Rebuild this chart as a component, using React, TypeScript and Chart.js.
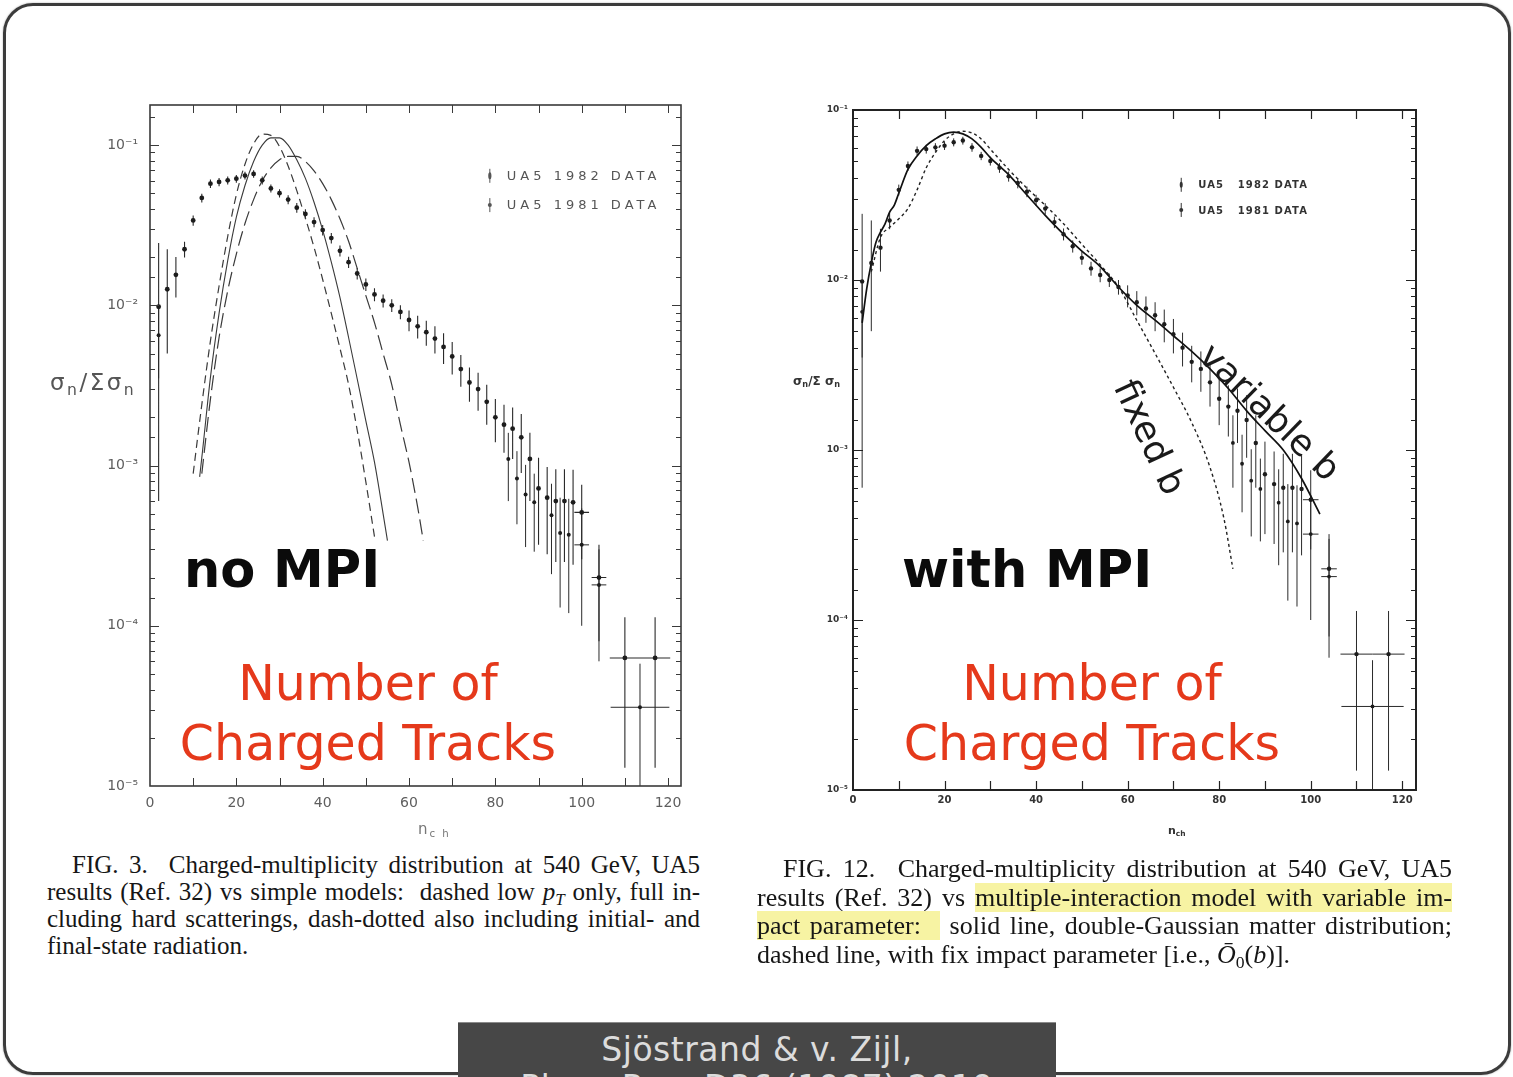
import React, { useEffect, useRef } from 'react';
import { Chart, registerables } from 'chart.js';

Chart.register(...registerables);

// ---------------- UA5 540 GeV charged-multiplicity data ----------------
// 1982 run
const ua82N = [2, 4, 6, 8, 10, 12, 14, 16, 18, 20, 22, 24, 26, 28, 30, 32, 34, 36, 38, 40, 42, 44, 46, 48, 50, 52, 54, 56, 58, 60, 62, 64, 66, 68, 70, 72, 74, 76, 78, 80, 82, 84, 86, 88, 90, 92, 94, 96, 98, 100, 104, 110, 117];
const ua82Val = [0.0098, 0.0126, 0.0155, 0.0224, 0.0339, 0.0468, 0.0575, 0.0589, 0.0603, 0.0617, 0.0646, 0.0661, 0.0603, 0.0537, 0.0501, 0.0457, 0.0407, 0.0372, 0.0331, 0.0295, 0.0263, 0.0219, 0.0186, 0.0158, 0.0135, 0.0117, 0.0107, 0.0100, 0.0091, 0.0081, 0.0074, 0.0068, 0.0062, 0.0055, 0.0048, 0.0040, 0.0033, 0.0030, 0.0025, 0.0020, 0.0018, 0.0017, 0.0015, 0.0011, 0.00072, 0.00063, 0.00060, 0.00060, 0.00059, 0.00051, 0.00020, 0.000063, 0.000063];
const ua82ErrUp = [0.0147, 0.0098, 0.0045, 0.0025, 0.0025, 0.0030, 0.0035, 0.0035, 0.0035, 0.0035, 0.0035, 0.0035, 0.0035, 0.0030, 0.0030, 0.0030, 0.0028, 0.0026, 0.0024, 0.0022, 0.0020, 0.0017, 0.0015, 0.0013, 0.0012, 0.0011, 0.0010, 0.0009, 0.0009, 0.0012, 0.0012, 0.0012, 0.0012, 0.0012, 0.0011, 0.0009, 0.0008, 0.0008, 0.0007, 0.0006, 0.0006, 0.0006, 0.0006, 0.0005, 0.0004, 0.00035, 0.00035, 0.00035, 0.00035, 0.00025, 0.00012, 0.00005, 0.00005];
const ua82ErrDn = [0.0092, 0.0076, 0.0043, 0.0025, 0.0025, 0.0030, 0.0035, 0.0035, 0.0035, 0.0035, 0.0035, 0.0035, 0.0035, 0.0030, 0.0030, 0.0030, 0.0028, 0.0026, 0.0024, 0.0022, 0.0020, 0.0017, 0.0015, 0.0013, 0.0012, 0.0011, 0.0010, 0.0009, 0.0009, 0.0012, 0.0012, 0.0012, 0.0012, 0.0012, 0.0011, 0.0009, 0.0008, 0.0008, 0.0007, 0.0006, 0.0006, 0.0006, 0.0006, 0.0005, 0.0004, 0.00035, 0.00035, 0.00035, 0.00035, 0.00025, 0.00012, 0.00005, 0.00005];
const ua82XErr = [0, 0, 0, 0, 0, 0, 0, 0, 0, 0, 0, 0, 0, 0, 0, 0, 0, 0, 0, 0, 0, 0, 0, 0, 0, 0, 0, 0, 0, 0, 0, 0, 0, 0, 0, 0, 0, 0, 0, 0, 0, 0, 0, 0, 0, 0, 0, 0, 0, 1.7, 1.7, 3.5, 3.5];
// 1981 run
const ua81N = [2, 83, 85, 87, 89, 93, 95, 97, 100, 104, 113.5];
const ua81Val = [0.0065, 0.0011, 0.00083, 0.00066, 0.00059, 0.00049, 0.00038, 0.00037, 0.00032, 0.00018, 0.000031];
const ua81Err = [0.003, 0.0005, 0.0004, 0.00035, 0.0003, 0.00028, 0.00025, 0.00025, 0.00022, 0.00012, 0.000027];
const ua81XErr = [0, 0, 0, 0, 0, 0, 0, 0, 1.7, 1.7, 6.8];

// ---------------- FIG. 3 simple models ----------------
const lowPtN = [10, 12, 14, 16, 18, 20, 22, 24, 26, 28, 30, 32, 34, 36, 38, 40, 42, 44, 46, 48, 50, 52];
const lowPtVal = [0.00089, 0.0024, 0.0060, 0.0132, 0.0269, 0.049, 0.076, 0.102, 0.117, 0.115, 0.098, 0.074, 0.052, 0.035, 0.023, 0.0145, 0.0089, 0.0054, 0.0032, 0.00166, 0.00079, 0.00036];
const hardN = [11.5, 12, 14, 16, 18, 20, 22, 24, 26, 28, 30, 32, 34, 36, 38, 40, 42, 44, 46, 48, 50, 52, 54, 55];
const hardVal = [0.00085, 0.00112, 0.00355, 0.0089, 0.019, 0.0355, 0.056, 0.079, 0.1, 0.111, 0.111, 0.1, 0.081, 0.062, 0.044, 0.0295, 0.0186, 0.0112, 0.0063, 0.00347, 0.0019, 0.00105, 0.0005, 0.00034];
const radN = [12, 14, 16, 18, 20, 22, 24, 26, 28, 30, 32, 34, 36, 38, 40, 42, 44, 46, 48, 50, 52, 54, 56, 58, 60, 62, 63.3];
const radVal = [0.00089, 0.0026, 0.0063, 0.0123, 0.0209, 0.0324, 0.0457, 0.060, 0.072, 0.081, 0.085, 0.085, 0.079, 0.069, 0.0575, 0.0457, 0.0347, 0.0251, 0.017, 0.0115, 0.0078, 0.005, 0.0032, 0.0018, 0.00105, 0.00055, 0.00034];

// ---------------- FIG. 12 multiple-interaction model ----------------
const varBN = [2, 3, 4, 5, 6, 7, 8, 9, 10, 12, 14, 16, 18, 20, 22, 24, 26, 28, 30, 34, 38, 42, 46, 50, 54, 58, 62, 66, 70, 74, 78, 82, 86, 90, 94, 98, 102];
const varBVal = [0.0056, 0.0089, 0.0126, 0.0166, 0.0191, 0.0214, 0.0251, 0.0275, 0.0324, 0.0447, 0.0537, 0.0617, 0.0676, 0.0724, 0.0741, 0.0724, 0.0676, 0.0603, 0.0525, 0.0417, 0.0316, 0.0240, 0.0186, 0.0148, 0.0120, 0.0091, 0.0071, 0.0058, 0.0047, 0.0038, 0.0030, 0.0023, 0.0017, 0.0013, 0.0010, 0.00068, 0.00042];
const fixBN = [4, 6, 8, 10, 12, 14, 16, 18, 20, 22, 24, 26, 28, 30, 34, 38, 42, 46, 50, 54, 58, 62, 66, 70, 74, 78, 81, 83];
const fixBVal = [0.0112, 0.0178, 0.0204, 0.0229, 0.0263, 0.0339, 0.0457, 0.0562, 0.0661, 0.0724, 0.075, 0.0733, 0.0676, 0.0589, 0.0447, 0.0347, 0.0275, 0.0214, 0.0162, 0.0123, 0.0091, 0.0058, 0.0037, 0.00234, 0.00145, 0.00079, 0.0004, 0.0002];

// ---------------- tick labels ----------------
const xTickValues = [0, 20, 40, 60, 80, 100, 120];
const xTickLabels = ['0', '20', '40', '60', '80', '100', '120'];
const yTickValues = [1e-5, 1e-4, 1e-3, 1e-2, 1e-1];
const yTickLabels = ['10\u207B\u2075', '10\u207B\u2074', '10\u207B\u00B3', '10\u207B\u00B2', '10\u207B\u00B9'];
const legendLabels = ['UA5 1982 DATA', 'UA5 1981 DATA'];
const legendLabelsRight = ['UA5   1982 DATA', 'UA5   1981 DATA'];

const isPow10 = (v: number) => Math.abs(Math.log10(v) - Math.round(Math.log10(v))) < 1e-6;
const yLabel = (v: number) => {
  const i = yTickValues.findIndex((t) => Math.abs(t - v) / t < 1e-6);
  return i >= 0 ? yTickLabels[i] : '';
};
const xLabel = (v: number) => {
  const i = xTickValues.indexOf(v);
  return i >= 0 ? xTickLabels[i] : '';
};

const pts = (xs: number[], ys: number[]) => xs.map((x, i) => ({ x, y: ys[i] }));

// error bars drawn through the chart scales
const errorBars = {
  id: 'errorBars',
  beforeDatasetsDraw(chart: any) {
    const { ctx, chartArea: ca, scales } = chart;
    const xs = scales.x;
    const ys = scales.y;
    ctx.save();
    ctx.beginPath();
    ctx.rect(ca.left, ca.top, ca.right - ca.left, ca.bottom - ca.top);
    ctx.clip();
    chart.data.datasets.forEach((ds: any) => {
      if (!ds.errUp) return;
      ctx.strokeStyle = ds.errColor;
      ctx.lineWidth = ds.errWidth;
      ctx.beginPath();
      ds.data.forEach((p: any, i: number) => {
        const px = xs.getPixelForValue(p.x);
        const hi = p.y + ds.errUp[i];
        const lo = Math.max(p.y - ds.errDn[i], ys.min * 0.5);
        ctx.moveTo(px, ys.getPixelForValue(hi));
        ctx.lineTo(px, ys.getPixelForValue(lo));
        const xe = ds.xErr ? ds.xErr[i] : 0;
        if (xe > 0) {
          const py = ys.getPixelForValue(p.y);
          ctx.moveTo(xs.getPixelForValue(p.x - xe), py);
          ctx.lineTo(xs.getPixelForValue(p.x + xe), py);
        }
      });
      ctx.stroke();
    });
    ctx.restore();
  },
};

// frame, inward ticks on all four sides, and in-plot legend
const inTicks = {
  id: 'inTicks',
  afterDatasetsDraw(chart: any, _a: any, o: any) {
    const { ctx, chartArea: ca, scales } = chart;
    const xs = scales.x;
    const ys = scales.y;
    ctx.save();
    ctx.strokeStyle = o.color;
    ctx.lineWidth = o.tickWidth;
    ctx.beginPath();
    for (const t of xs.ticks) {
      const px = Math.round(xs.getPixelForValue(t.value)) + 0.5;
      if (px < ca.left + 2 || px > ca.right - 2) continue;
      ctx.moveTo(px, ca.bottom);
      ctx.lineTo(px, ca.bottom - o.xTick);
      ctx.moveTo(px, ca.top);
      ctx.lineTo(px, ca.top + o.xTick);
    }
    for (const t of ys.ticks) {
      const py = Math.round(ys.getPixelForValue(t.value)) + 0.5;
      if (py < ca.top + 2 || py > ca.bottom - 2) continue;
      const len = isPow10(t.value) ? o.yMajor : o.yMinor;
      ctx.moveTo(ca.left, py);
      ctx.lineTo(ca.left + len, py);
      ctx.moveTo(ca.right, py);
      ctx.lineTo(ca.right - len, py);
    }
    ctx.stroke();
    ctx.lineWidth = o.frameWidth;
    ctx.strokeRect(ca.left, ca.top, ca.right - ca.left, ca.bottom - ca.top);

    // legend
    ctx.font = o.legendFont;
    ctx.fillStyle = o.legendColor;
    ctx.strokeStyle = o.legendColor;
    ctx.textBaseline = 'middle';
    if ('letterSpacing' in ctx) (ctx as any).letterSpacing = o.legendSpacing;
    o.legend.forEach((it: any) => {
      const lx = ca.left + it.fx * (ca.right - ca.left);
      const ly = ca.top + it.fy * (ca.bottom - ca.top);
      ctx.lineWidth = 1;
      ctx.beginPath();
      ctx.moveTo(lx, ly - o.legendBar);
      ctx.lineTo(lx, ly + o.legendBar);
      ctx.stroke();
      ctx.beginPath();
      ctx.ellipse(lx, ly, it.rx, it.ry, 0, 0, Math.PI * 2);
      ctx.fill();
      ctx.fillText(it.label, lx + o.legendGap, ly + 1);
    });
    ctx.restore();
  },
};

function curve(xs: number[], ys: number[], color: string, width: number, dash: number[]) {
  return {
    data: pts(xs, ys),
    showLine: true,
    borderColor: color,
    borderWidth: width,
    borderDash: dash,
    pointRadius: 0,
    fill: false,
    cubicInterpolationMode: 'monotone',
  };
}

function dataSeries(xs: number[], ys: number[], up: number[], dn: number[], xe: number[], r: number, errW: number) {
  return {
    data: pts(xs, ys),
    showLine: false,
    pointRadius: r,
    pointStyle: 'circle',
    backgroundColor: '#1c1c1c',
    borderColor: '#1c1c1c',
    borderWidth: 0,
    errUp: up,
    errDn: dn,
    xErr: xe,
    errColor: '#2a2a2a',
    errWidth: errW,
  };
}

function buildConfig(p: any) {
  return {
    type: 'scatter',
    data: { datasets: p.datasets },
    options: {
      animation: false,
      responsive: false,
      maintainAspectRatio: false,
      events: [],
      layout: { padding: p.padding },
      plugins: { legend: { display: false }, tooltip: { enabled: false }, inTicks: p.frame },
      scales: {
        x: {
          type: 'linear',
          min: 0,
          max: 123,
          grid: { display: false, drawTicks: false },
          border: { display: false },
          ticks: {
            stepSize: 10,
            includeBounds: false,
            autoSkip: false,
            maxRotation: 0,
            padding: p.xPad,
            color: p.tickColor,
            font: p.xFont,
            callback: (v: any) => xLabel(Number(v)),
          },
          afterFit: (s: any) => {
            s.height = p.xH;
          },
        },
        y: {
          type: 'logarithmic',
          min: 1e-5,
          max: p.yMax,
          grid: { display: false, drawTicks: false },
          border: { display: false },
          ticks: {
            autoSkip: false,
            padding: p.yPad,
            color: p.tickColor,
            font: p.yFont,
            callback: (v: any) => yLabel(Number(v)),
          },
          afterFit: (s: any) => {
            s.width = p.yW;
          },
        },
      },
    },
    plugins: [errorBars, inTicks],
  };
}

function leftConfig() {
  return buildConfig({
    datasets: [
      dataSeries(ua82N, ua82Val, ua82ErrUp, ua82ErrDn, ua82XErr, 2.4, 1.1),
      dataSeries(ua81N, ua81Val, ua81Err, ua81Err, ua81XErr, 2.0, 1),
      curve(lowPtN, lowPtVal, '#3a3a3a', 1.2, [8, 5]),
      curve(hardN, hardVal, '#3a3a3a', 1.1, []),
      curve(radN, radVal, '#3a3a3a', 1.2, [15, 6]),
    ],
    padding: { left: 0, right: 29, top: 30, bottom: 19 },
    xH: 40,
    yW: 130,
    xPad: 9,
    yPad: 12,
    yMax: 0.178,
    tickColor: '#5e5e5e',
    xFont: { family: '"DejaVu Sans"', size: 14 },
    yFont: { family: '"DejaVu Sans"', size: 14 },
    frame: {
      color: '#3a3a3a',
      tickWidth: 1,
      frameWidth: 1.6,
      xTick: 8,
      yMajor: 9,
      yMinor: 5,
      legendFont: '13px "DejaVu Sans"',
      legendSpacing: '4px',
      legendColor: '#555',
      legendBar: 7,
      legendGap: 17,
      legend: [
        { label: legendLabels[0], fx: 0.64, fy: 0.104, rx: 1.6, ry: 3.5 },
        { label: legendLabels[1], fx: 0.64, fy: 0.147, rx: 2, ry: 2 },
      ],
    },
  });
}

function rightConfig() {
  return buildConfig({
    datasets: [
      dataSeries(ua82N, ua82Val, ua82ErrUp, ua82ErrDn, ua82XErr, 2.2, 1),
      dataSeries(ua81N, ua81Val, ua81Err, ua81Err, ua81XErr, 1.9, 1),
      curve(varBN, varBVal, '#111', 1.7, []),
      curve(fixBN, fixBVal, '#222', 1.4, [3, 3]),
    ],
    padding: { left: 0, right: 24, top: 15, bottom: 45 },
    xH: 30,
    yW: 93,
    xPad: 4,
    yPad: 5,
    yMax: 0.1,
    tickColor: '#333',
    xFont: { family: '"DejaVu Sans"', size: 10, weight: 'bold' },
    yFont: { family: '"DejaVu Sans"', size: 9, weight: 'bold' },
    frame: {
      color: '#222',
      tickWidth: 1.2,
      frameWidth: 2,
      xTick: 9,
      yMajor: 10,
      yMinor: 5,
      legendFont: 'bold 10px "DejaVu Sans"',
      legendSpacing: '1.1px',
      legendColor: '#333',
      legendBar: 7,
      legendGap: 17,
      legend: [
        { label: legendLabelsRight[0], fx: 0.583, fy: 0.11, rx: 1.5, ry: 3 },
        { label: legendLabelsRight[1], fx: 0.583, fy: 0.147, rx: 2, ry: 2 },
      ],
    },
  });
}

const abs = (left: number, top: number, extra: any = {}) => ({ position: 'absolute' as const, left, top, ...extra });
const SANS = '"DejaVu Sans", Verdana, sans-serif';
const SERIF = '"Liberation Serif", "Times New Roman", serif';
const RED = '#e5391b';
const HL = '#f7f3a3';
const subStyle = { fontSize: '0.68em', verticalAlign: '-0.3em', lineHeight: 0 };

export default function App() {
  const leftRef = useRef<HTMLCanvasElement>(null);
  const rightRef = useRef<HTMLCanvasElement>(null);

  useEffect(() => {
    const c1 = new Chart(leftRef.current as HTMLCanvasElement, leftConfig() as any);
    const c2 = new Chart(rightRef.current as HTMLCanvasElement, rightConfig() as any);
    return () => {
      c1.destroy();
      c2.destroy();
    };
  }, []);

  const justified = { textAlign: 'justify' as const, textAlignLast: 'justify' as const, whiteSpace: 'nowrap' as const };

  return (
    <div style={{ position: 'absolute', left: 0, top: 0, width: 1513, height: 1077, overflow: 'hidden', background: '#fff', fontFamily: SANS }}>
      {/* slide frame */}
      <div style={abs(3, 3, { width: 1508, height: 1072, boxSizing: 'border-box', border: '3px solid #3c3c3c', borderRadius: 30, boxShadow: '0 0 2px rgba(0,0,0,0.35)' })} />

      {/* charts */}
      <canvas ref={leftRef} width={690} height={770} style={abs(20, 75, { width: 690, height: 770 })} />
      <canvas ref={rightRef} width={680} height={770} style={abs(760, 95, { width: 680, height: 770 })} />

      {/* axis titles */}
      <div style={abs(50, 369, { fontSize: 23, color: '#555', letterSpacing: 2.5, whiteSpace: 'nowrap' })}>
        σ<span style={subStyle}>n</span>/Σσ<span style={subStyle}>n</span>
      </div>
      <div style={abs(418, 820, { fontSize: 15, color: '#777', letterSpacing: 2, whiteSpace: 'nowrap' })}>
        n<span style={subStyle}>c h</span>
      </div>
      <div style={abs(793, 374, { fontSize: 12, fontWeight: 'bold', color: '#333', whiteSpace: 'nowrap' })}>
        σ<span style={subStyle}>n</span>/Σ σ<span style={subStyle}>n</span>
      </div>
      <div style={abs(1168, 824, { fontSize: 11, fontWeight: 'bold', color: '#333', whiteSpace: 'nowrap' })}>
        n<span style={subStyle}>ch</span>
      </div>

      {/* big annotations */}
      <div style={abs(184, 544, { fontSize: 51, lineHeight: '51px', fontWeight: 'bold', color: '#0b0b0b', whiteSpace: 'nowrap' })}>no MPI</div>
      <div style={abs(902, 544, { fontSize: 51, lineHeight: '51px', fontWeight: 'bold', color: '#0b0b0b', whiteSpace: 'nowrap' })}>with MPI</div>
      <div style={abs(168, 654, { width: 400, textAlign: 'center', fontSize: 49, lineHeight: '60px', color: RED, whiteSpace: 'nowrap' })}>
        Number of
        <br />
        Charged Tracks
      </div>
      <div style={abs(892, 654, { width: 400, textAlign: 'center', fontSize: 49, lineHeight: '60px', color: RED, whiteSpace: 'nowrap' })}>
        Number of
        <br />
        Charged Tracks
      </div>
      <div style={abs(1270, 412, { transform: 'translate(-50%, -50%) rotate(44deg)', fontSize: 36, lineHeight: '36px', color: '#1a1a1a', whiteSpace: 'nowrap' })}>variable b</div>
      <div style={abs(1150, 437, { transform: 'translate(-50%, -50%) rotate(65deg)', fontSize: 36, lineHeight: '36px', color: '#1a1a1a', whiteSpace: 'nowrap' })}>fixed b</div>

      {/* left caption */}
      <div style={abs(47, 851, { width: 653, fontFamily: SERIF, fontSize: 25, lineHeight: '27px', color: '#161616' })}>
        <div style={{ ...justified, textIndent: 25 }}>FIG. 3.&nbsp; Charged-multiplicity distribution at 540 GeV, UA5</div>
        <div style={justified}>
          results (Ref. 32) vs simple models:&nbsp; dashed low <i>p</i>
          <span style={subStyle}>
            <i>T</i>
          </span>{' '}
          only, full in-
        </div>
        <div style={justified}>cluding hard scatterings, dash-dotted also including initial- and</div>
        <div style={{ whiteSpace: 'nowrap' }}>final-state radiation.</div>
      </div>

      {/* right caption */}
      <div style={abs(757, 855, { width: 695, fontFamily: SERIF, fontSize: 26, lineHeight: '28.5px', color: '#161616' })}>
        <div style={{ ...justified, textIndent: 26 }}>FIG. 12.&nbsp; Charged-multiplicity distribution at 540 GeV, UA5</div>
        <div style={justified}>
          results (Ref. 32) vs <span style={{ background: HL }}>multiple-interaction model with variable im-</span>
        </div>
        <div style={justified}>
          <span style={{ background: HL }}>pact parameter:&nbsp;&nbsp;</span> solid line, double-Gaussian matter distribution;
        </div>
        <div style={{ whiteSpace: 'nowrap' }}>
          dashed line, with fix impact parameter [i.e., <i>Ō</i>
          <span style={subStyle}>0</span>(<i>b</i>)].
        </div>
      </div>

      {/* reference banner */}
      <div style={abs(458, 1022, { width: 598, height: 80, background: '#474747', borderTop: '1px solid #8a8a8a', boxSizing: 'border-box', paddingTop: 8, textAlign: 'center', color: '#dcdcdc', fontSize: 33, lineHeight: '38px', letterSpacing: 0.5, whiteSpace: 'nowrap' })}>
        Sjöstrand &amp; v. Zijl,
        <br />
        Phys. Rev. D36 (1987) 2019
      </div>
    </div>
  );
}
